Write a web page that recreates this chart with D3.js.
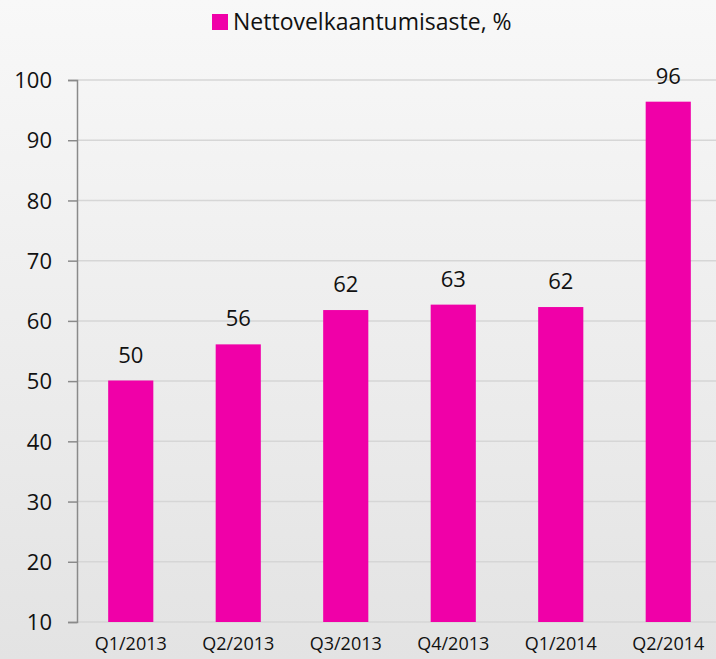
<!DOCTYPE html>
<html>
<head>
<meta charset="utf-8">
<script src="https://cdn.jsdelivr.net/npm/d3@7"></script>
<style>
  body { margin: 0; overflow: hidden; }
  text { font-family: "Open Sans", sans-serif; fill: #111; }
</style>
</head>
<body>
<svg id="fig"></svg>
<script>
const categories = ['Q1/2013', 'Q2/2013', 'Q3/2013', 'Q4/2013', 'Q1/2014', 'Q2/2014'];
const values = [50.1, 56.1, 61.8, 62.7, 62.3, 96.4];
const yTicks = [10, 20, 30, 40, 50, 60, 70, 80, 90, 100];
const seriesName = 'Nettovelkaantumisaste, %';

function render(svgTag, width, height) {
    const margin = { top: 80, right: -6, bottom: 37, left: 77 };
    const innerWidth = width - margin.left - margin.right;
    const innerHeight = height - margin.top - margin.bottom;
    const barColor = '#f000a8';

    const svg = d3.select(svgTag)
        .attr('width', width)
        .attr('height', height);

    // light gray background gradient
    const grad = svg.append('defs').append('linearGradient')
        .attr('id', 'bg').attr('x1', 0).attr('y1', 0).attr('x2', 0).attr('y2', 1);
    grad.append('stop').attr('offset', '0%').attr('stop-color', '#f8f8f8');
    grad.append('stop').attr('offset', '100%').attr('stop-color', '#e3e3e3');
    svg.append('rect').attr('width', width).attr('height', height).attr('fill', 'url(#bg)');

    const yScale = d3.scaleLinear()
        .domain([10, 100])
        .range([innerHeight, 0]);
    const xScale = d3.scaleBand()
        .domain(categories)
        .range([0, innerWidth])
        .paddingInner(0.58)
        .paddingOuter(0.29);

    const g = svg.append('g')
        .attr('transform', `translate(${margin.left},${margin.top})`);

    // gridlines
    g.append('g').selectAll('line').data(yTicks)
        .enter().append('line')
        .attr('x1', 0)
        .attr('x2', innerWidth)
        .attr('y1', d => yScale(d))
        .attr('y2', d => yScale(d))
        .attr('stroke', '#d6d6d6')
        .attr('stroke-width', 1.5);

    // y axis
    const yAxis = g.append('g')
        .call(d3.axisLeft(yScale).tickValues(yTicks).tickSize(9).tickPadding(16));
    yAxis.select('.domain').attr('stroke', '#8a8a8a').attr('stroke-width', 1.5);
    yAxis.selectAll('.tick line').attr('stroke', '#8a8a8a').attr('stroke-width', 1.5);
    yAxis.selectAll('.tick text')
        .style('font-family', '"Open Sans", sans-serif')
        .style('font-size', '22px')
        .attr('fill', '#111')
        .attr('dy', '0.35em');

    // x axis labels
    const xAxis = g.append('g')
        .attr('transform', `translate(0,${innerHeight})`)
        .call(d3.axisBottom(xScale).tickSize(0).tickPadding(15));
    xAxis.select('.domain').remove();
    xAxis.selectAll('.tick text')
        .style('font-family', '"Open Sans", sans-serif')
        .style('font-size', '18px')
        .attr('fill', '#111');

    // bars
    g.selectAll('rect.bar').data(values)
        .enter().append('rect')
        .attr('class', 'bar')
        .attr('x', (d, i) => xScale(categories[i]))
        .attr('y', d => yScale(d))
        .attr('width', xScale.bandwidth())
        .attr('height', d => innerHeight - yScale(d))
        .attr('fill', barColor);

    // value labels
    g.selectAll('text.val').data(values)
        .enter().append('text')
        .attr('class', 'val')
        .attr('x', (d, i) => xScale(categories[i]) + xScale.bandwidth() / 2)
        .attr('y', d => yScale(d) - 18)
        .attr('text-anchor', 'middle')
        .style('font-size', '22px')
        .text(d => Math.round(d));

    // legend
    const legend = svg.append('g').attr('transform', 'translate(212,14)');
    legend.append('rect').attr('width', 16).attr('height', 16).attr('fill', barColor);
    legend.append('text')
        .attr('x', 21)
        .attr('y', 16)
        .style('font-size', '23px')
        .text(seriesName);
}

render('#fig', 716, 659);
</script>
</body>
</html>
